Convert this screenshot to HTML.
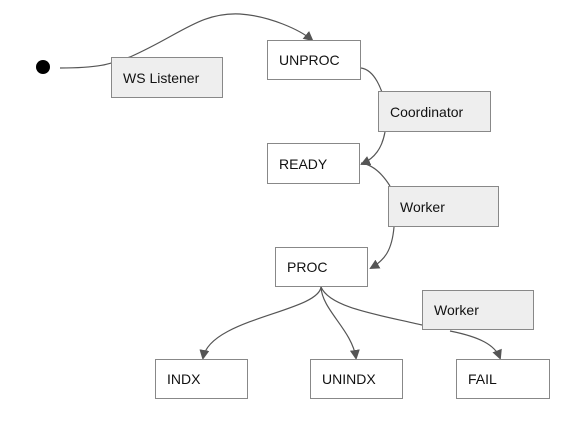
<!DOCTYPE html>
<html><head><style>
body{margin:0;background:#fff;width:586px;height:436px;overflow:hidden;font-family:"Liberation Sans",sans-serif;}
.b{position:absolute;box-sizing:border-box;border:1px solid #888;background:#fff;font-size:14px;color:#111;padding-left:11px;display:flex;align-items:center;}
.g{background:#eee;}
</style></head><body>
<svg width="586" height="436" style="position:absolute;left:0;top:0">
<defs><marker id="a" markerWidth="10" markerHeight="10" refX="8" refY="5" orient="auto" markerUnits="userSpaceOnUse"><path d="M0,0 L10,5 L0,10 z" fill="#555"/></marker></defs>
<circle cx="43" cy="67" r="7" fill="#000"/>
<g fill="none" stroke="#555" stroke-width="1.2">
<path d="M60,68 C100,68 110,64 130,57 C180,35 200,12 240,14 C270,16 300,30 312,40" marker-end="url(#a)"/>
<path d="M361,68 C375,70 382,90 385,103 M385,132 C382,148 375,158 362,164" marker-end="url(#a)"/>
<path d="M361,163 C375,165 385,178 390,186 M394,227 C392,250 385,260 371,268" marker-end="url(#a)"/>
<path d="M321,287 C318,312 210,318 203,358" marker-end="url(#a)"/>
<path d="M321,287 C322,310 352,330 356,358" marker-end="url(#a)"/>
<path d="M321,287 C330,308 380,315 422,325 M450,331 C480,337 495,345 500,358" marker-end="url(#a)"/>
</g></svg>
<div class="b g" style="left:111px;top:57px;width:112px;height:41px">WS Listener</div>
<div class="b" style="left:267px;top:40px;width:94px;height:40px">UNPROC</div>
<div class="b g" style="left:378px;top:91px;width:113px;height:41px">Coordinator</div>
<div class="b" style="left:267px;top:143px;width:93px;height:41px">READY</div>
<div class="b g" style="left:388px;top:186px;width:111px;height:41px">Worker</div>
<div class="b" style="left:275px;top:247px;width:93px;height:40px">PROC</div>
<div class="b g" style="left:422px;top:290px;width:112px;height:40px">Worker</div>
<div class="b" style="left:155px;top:359px;width:93px;height:40px">INDX</div>
<div class="b" style="left:310px;top:359px;width:93px;height:40px">UNINDX</div>
<div class="b" style="left:456px;top:359px;width:94px;height:40px">FAIL</div>
</body></html>
